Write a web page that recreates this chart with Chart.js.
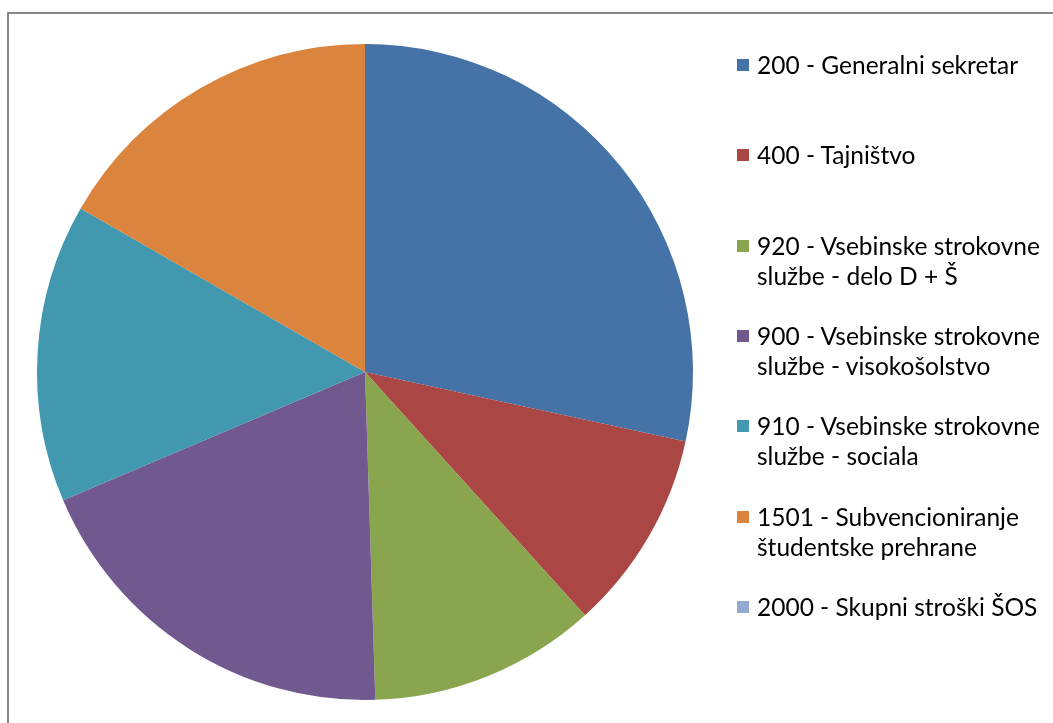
<!DOCTYPE html>
<html>
<head>
<meta charset="utf-8">
<script src="https://cdn.jsdelivr.net/npm/chart.js@4.4.0/dist/chart.umd.min.js"></script>
<style>
	body { margin: 0; background: #fff; width: 1053px; height: 723px; overflow: hidden; position: relative; }
	#frame { position: absolute; left: 7px; top: 12px; width: 1100px; height: 800px; border-left: 2px solid #878787; border-top: 2px solid #878787; }
	#wrap { position: absolute; left: 0; top: 0; width: 1053px; height: 723px; }
	#legend { position: absolute; left: 737px; top: 0; font-family: Lato, "Open Sans", sans-serif; font-size: 24.5px; color: #000; }
	.item { position: absolute; left: 0; width: 320px; line-height: 30px; }
	.box { position: absolute; left: 0; top: 9px; width: 12px; height: 12px; }
	.txt { position: absolute; left: 20px; white-space: nowrap; }
</style>
</head>
<body>
<div id="frame"></div>
<div id="wrap"><canvas id="chart"></canvas></div>
<div id="legend"></div>
<script>
// categories (legend lines)
var categories = [
	["200 - Generalni sekretar"],
	["400 - Tajništvo"],
	["920 - Vsebinske strokovne", "službe - delo D + Š"],
	["900 - Vsebinske strokovne", "službe - visokošolstvo"],
	["910 - Vsebinske strokovne", "službe - sociala"],
	["1501 - Subvencioniranje", "študentske prehrane"],
	["2000 - Skupni stroški ŠOS"]
];

// share of each item (%)
var values = [28.4, 9.9, 11.2, 19.1, 14.7, 16.7, 0];

var colors = ['#4572A7', '#AA4643', '#89A54E', '#71588F', '#4198AF', '#DB843D', '#93A9CF'];

// html legend
var legend = document.getElementById('legend');
for (var i = 0; i < categories.length; i++) {
	var item = document.createElement('div');
	item.className = 'item';
	item.style.top = (50 + i * 90.3) + 'px';
	var box = document.createElement('div');
	box.className = 'box';
	box.style.background = colors[i];
	item.appendChild(box);
	var txt = document.createElement('div');
	txt.className = 'txt';
	txt.innerHTML = categories[i].join('<br>');
	item.appendChild(txt);
	legend.appendChild(item);
}

var ctx = document.getElementById('chart').getContext('2d');
var pie = new Chart(ctx, {
	type: 'pie',
	data: {
		labels: categories.map(function (c) { return c.join(' '); }),
		datasets: [{
			data: values,
			backgroundColor: colors,
			borderWidth: 0,
			hoverOffset: 0
		}]
	},
	options: {
		responsive: true,
		maintainAspectRatio: false,
		animation: false,
		layout: { padding: { left: 37, top: 44, right: 360, bottom: 23 } },
		plugins: {
			legend: { display: false },
			tooltip: { enabled: false }
		}
	}
});
</script>
</body>
</html>
